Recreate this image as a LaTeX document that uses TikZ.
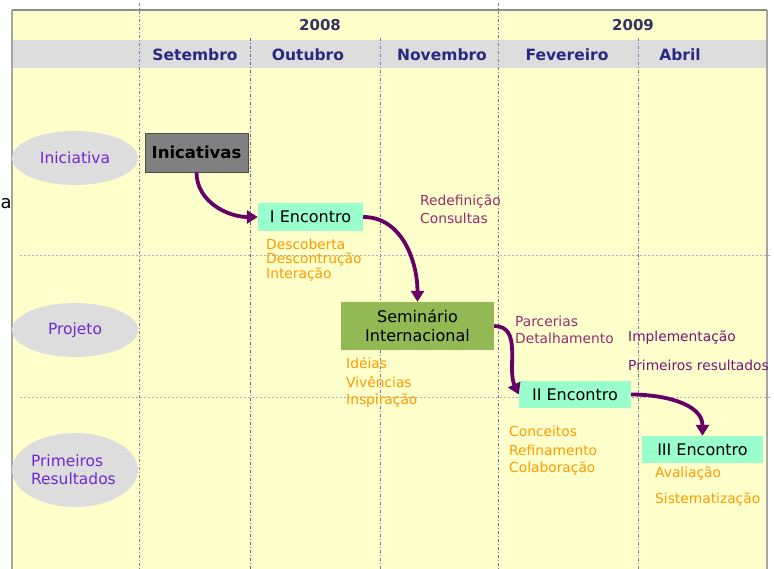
\documentclass[tikz,border=0pt]{standalone}
\usepackage{fontspec}
\setmainfont{DejaVu Sans}
\usetikzlibrary{arrows.meta,shapes.geometric}
\definecolor{panel}{RGB}{255,255,204}
\definecolor{band}{RGB}{221,221,221}
\definecolor{monthc}{RGB}{40,40,130}
\definecolor{yearc}{RGB}{50,50,100}
\definecolor{ellc}{RGB}{112,40,210}
\definecolor{orng}{RGB}{255,153,0}
\definecolor{plum}{RGB}{150,45,110}
\definecolor{plumd}{RGB}{120,20,120}
\definecolor{arr}{RGB}{102,0,102}
\definecolor{aqua}{RGB}{153,255,204}
\definecolor{grn}{RGB}{146,185,84}
\definecolor{gridc}{RGB}{120,120,180}
\definecolor{hgrid}{RGB}{170,170,200}
\tikzset{
  month/.style={font=\bfseries\fontsize{15.5}{18}\selectfont, text=monthc},
  year/.style={font=\bfseries\fontsize{15}{17}\selectfont, text=yearc},
  lane/.style={ellipse, fill=band, minimum width=126pt, minimum height=54pt, text=ellc, font=\fontsize{15.5}{18}\selectfont, align=left, inner sep=0pt},
  box/.style={inner sep=0pt, font=\fontsize{16}{19}\selectfont, text=black, align=center},
  lbl/.style={anchor=west, inner sep=0pt, font=\fontsize{13.8}{15}\selectfont},
  flow/.style={draw=arr, line width=3.8pt, -{Triangle[length=11pt,width=13pt]}},
  vgrid/.style={draw=gridc, line width=0.8pt, dash pattern=on 3pt off 2pt on 1pt off 2pt},
  hline/.style={draw=hgrid, line width=0.8pt, dash pattern=on 2pt off 2pt}
}
\begin{document}
\begin{tikzpicture}[x=1pt,y=-1pt]
\useasboundingbox (0,0) rectangle (774,569);
% panel
\fill[panel] (12,10) rectangle (767,569);
\fill[band] (12,40) rectangle (767,68);
% grid
\foreach \x/\t in {139/3,380/38,498/3,638/38}
  \draw[vgrid] (\x,\t) -- (\x,569);
\draw[vgrid, draw=gridc!80!black, line width=1pt] (250,38) -- (250,569);
\draw[hline] (20,255) -- (772,255);
\draw[hline] (20,397) -- (772,397);
% borders
\draw[draw=gray!90, line width=1.5pt] (12,10) -- (767,10);
\draw[draw=gray!70, line width=1.2pt] (12,10) -- (12,569);
\draw[draw=gray!70, line width=1.2pt] (767,10) -- (767,569);
% header
\node[year] (y2008) at (320,25) {2008};
\node[year] (y2009) at (633,25) {2009};
\node[month] (set) at (195,55) {Setembro};
\node[month] (out) at (308,55) {Outubro};
\node[month] (nov) at (442,55) {Novembro};
\node[month] (fev) at (567,55) {Fevereiro};
\node[month] (abr) at (680,55) {Abril};
% lanes
\node[lane] (lini) at (75,158) {Iniciativa};
\node[lane] (lproj) at (75,330) {Projeto};
\node[lane, minimum height=74pt, text width=88pt] (lres) at (75,470) {Primeiros\\Resultados};
\node[anchor=west, inner sep=0pt, font=\fontsize{18}{20}\selectfont] (frag) at (0.5,204) {a};
% boxes
\node[box, draw=gray!60!black, fill=gray, minimum width=103pt, minimum height=39pt, font=\bfseries\fontsize{16.5}{19}\selectfont] (inic) at (196.5,152.5) {Inicativas};
\node[box, fill=aqua, minimum width=105pt, minimum height=28pt] (enc1) at (310.5,217) {I Encontro};
\node[box, fill=grn, minimum width=153pt, minimum height=48pt] (sem) at (417.5,326) {Seminário\\Internacional};
\node[box, fill=aqua, minimum width=112pt, minimum height=27pt] (enc2) at (575,394.5) {II Encontro};
\node[box, fill=aqua, minimum width=121pt, minimum height=27pt] (enc3) at (702.5,449.5) {III Encontro};
% labels
\node[lbl, text=orng] (l1a) at (266,244) {Descoberta};
\node[lbl, text=orng] (l1b) at (266,259) {Descontrução};
\node[lbl, text=orng] (l1c) at (266,274) {Interação};
\node[lbl, text=plum] (l2a) at (420,201) {Redefinição};
\node[lbl, text=plum] (l2b) at (420,218) {Consultas};
\node[lbl, text=orng] (l3a) at (346,363) {Idéias};
\node[lbl, text=orng] (l3b) at (346,382) {Vivências};
\node[lbl, text=orng] (l3c) at (346,401) {Inspiração};
\node[lbl, text=plum] (l4a) at (515,321) {Parcerias};
\node[lbl, text=plum] (l4b) at (515,338) {Detalhamento};
\node[lbl, text=plumd] (l5a) at (628,338) {Implementação};
\node[lbl, text=plumd] (l5b) at (628,365) {Primeiros resultados};
\node[lbl, text=orng] (l6a) at (509,431) {Conceitos};
\node[lbl, text=orng] (l6b) at (509,450) {Refinamento};
\node[lbl, text=orng] (l6c) at (509,468) {Colaboração};
\node[lbl, text=orng] (l7a) at (655,473) {Avaliação};
\node[lbl, text=orng] (l7b) at (655,499) {Sistematização};
% arrows
\draw[flow] (inic.south) to[out=-90,in=180] (enc1.west);
\draw[flow] (enc1.east) to[out=0,in=90] (sem.north);
\draw[flow] (sem.east) to[out=0,in=115] (enc2.west);
\draw[flow] (enc2.east) to[out=0,in=90] (enc3.north);
\end{tikzpicture}
\end{document}
